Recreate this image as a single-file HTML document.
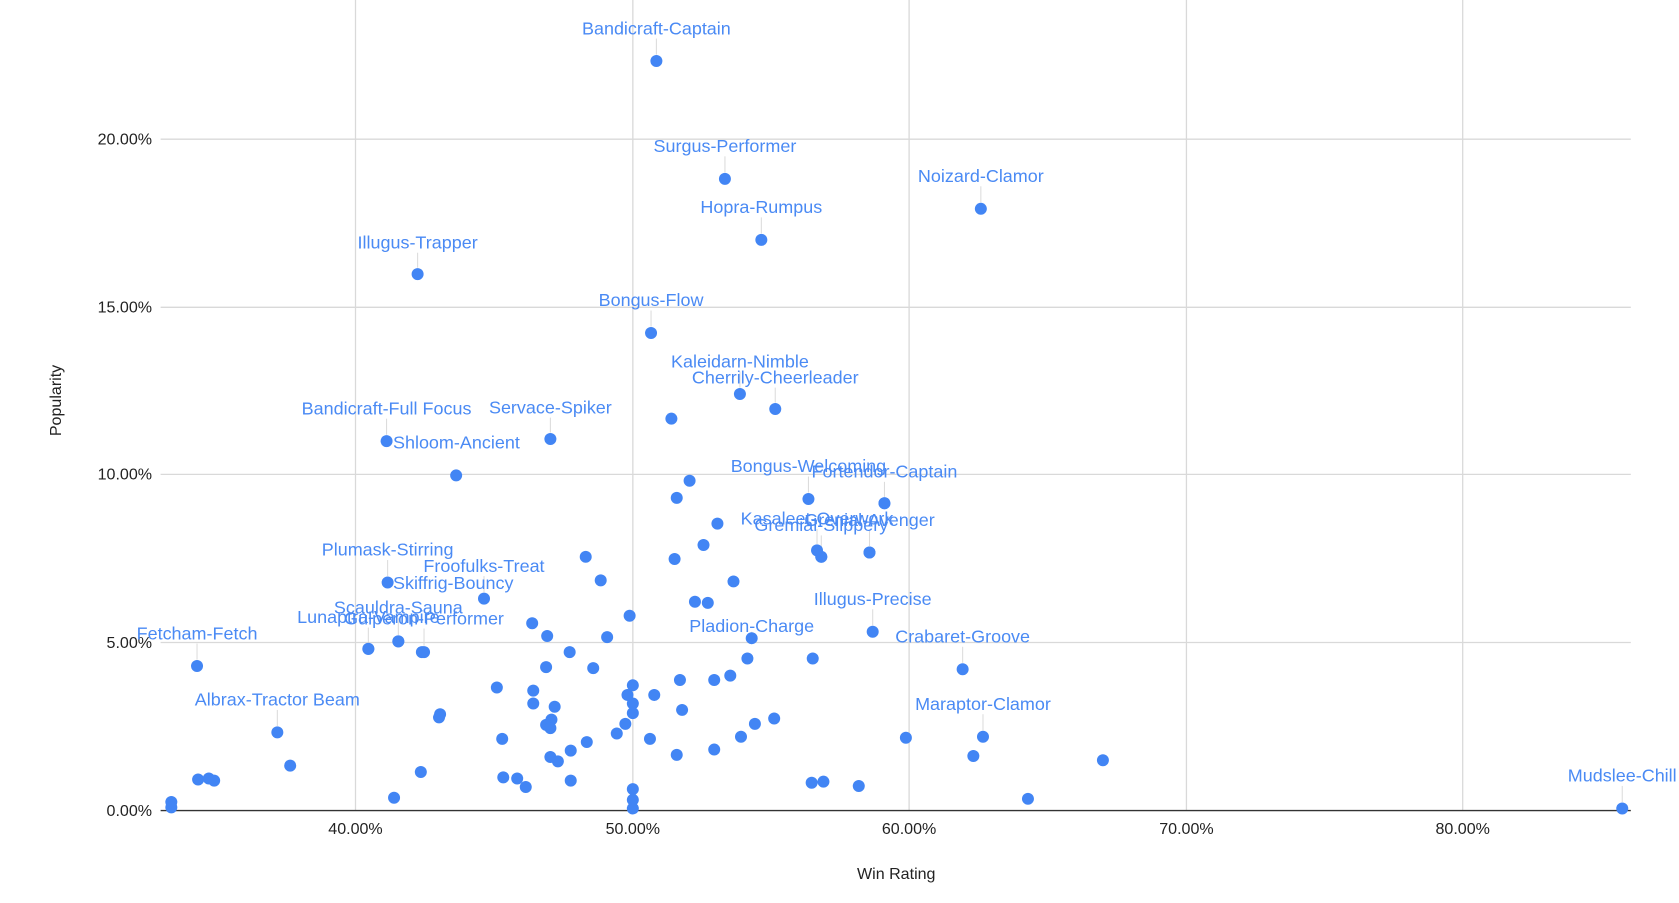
<!DOCTYPE html>
<html><head><meta charset="utf-8"><style>
html,body{margin:0;padding:0;background:#fff;}
svg{display:block;}
text{font-family:"Liberation Sans",sans-serif;}
.l{fill:#4a8af4;font-size:16.8px;text-anchor:middle;}
.t{fill:#222;font-size:15px;}
</style></head><body>
<svg width="1679" height="903" viewBox="0 0 1568 843.3" preserveAspectRatio="none">
<g stroke="#d9d9d9" stroke-width="1.2">
<line x1="332" y1="0" x2="332" y2="757"/><line x1="591" y1="0" x2="591" y2="757"/><line x1="849" y1="0" x2="849" y2="757"/><line x1="1108" y1="0" x2="1108" y2="757"/><line x1="1366" y1="0" x2="1366" y2="757"/>
<line x1="150" y1="130" x2="1523" y2="130"/><line x1="150" y1="287" x2="1523" y2="287"/><line x1="150" y1="443" x2="1523" y2="443"/><line x1="150" y1="600" x2="1523" y2="600"/>
</g>
<line x1="150" y1="757" x2="1523" y2="757" stroke="#333" stroke-width="1.3"/>
<g class="t" text-anchor="end">
<text x="142" y="135">20.00%</text><text x="142" y="292">15.00%</text><text x="142" y="448">10.00%</text><text x="142" y="605">5.00%</text><text x="142" y="762">0.00%</text>
</g>
<g class="t" text-anchor="middle">
<text x="332" y="779">40.00%</text><text x="591" y="779">50.00%</text><text x="849" y="779">60.00%</text><text x="1108" y="779">70.00%</text><text x="1366" y="779">80.00%</text>
<text x="837" y="821">Win Rating</text>
<text transform="translate(57,374) rotate(-90)">Popularity</text>
</g>
<g stroke="#dcdcdc" stroke-width="1" id="leaders"></g>
<g fill="#4285f4" id="pts"></g>
<g id="labs"></g>
<script>
var pts=[[627,391],[644,449],[632,465],[670,489],[657,509],[630,522],[547,520],[561,542],[685,543],[649,562],[661,563],[588,575],[497,582],[511,594],[567,595],[532,609],[510,623],[554,624],[464,642],[591,640],[635,635],[667,635],[682,631],[698,615],[759,615],[498,645],[498,657],[586,649],[611,649],[591,657],[591,666],[518,660],[637,663],[411,667],[410,670],[515,672],[510,677],[514,680],[584,676],[723,671],[705,676],[576,685],[469,690],[548,693],[607,690],[692,688],[846,689],[533,701],[667,700],[632,705],[514,707],[521,711],[909,706],[1030,710],[271,715],[393,721],[470,726],[483,727],[533,729],[185,728],[195,727],[200,729],[491,735],[591,737],[758,731],[769,730],[802,734],[368,745],[591,747],[960,746],[160,749],[160,754],[591,755],[426,444],[344,606],[372,599],[394,609],[826,470],[767,520],[812,516]];
var labs=[["Bandicraft-Captain",613,57,26],["Surgus-Performer",677,167,136],["Noizard-Clamor",916,195,164],["Hopra-Rumpus",711,224,193],["Illugus-Trapper",390,256,226],["Bongus-Flow",608,311,280],["Kaleidarn-Nimble",691,368,337],["Cherrily-Cheerleader",724,382,352],["Servace-Spiker",514,410,380],["Fortendor-Captain",826,470,440],["Gremial-Slippery",767,520,490],["Grenial-Avenger",812,516,485],["Kasaleet-Overwork",763,514,484],["Bongus-Welcoming",755,466,435],["Illugus-Precise",815,590,559],["Pladion-Charge",702,596,584],["Crabaret-Groove",899,625,594],["Scauldra-Sauna",372,599,567],["Gulperon-Performer",396,609,577],["Lunaptra-Vampire",344,606,576],["Fetcham-Fetch",184,622,591],["Albrax-Tractor Beam",259,684,653],["Maraptor-Clamor",918,688,657],["Mudslee-Chill",1515,755,724],["Froofulks-Treat",452,559,528],["Plumask-Stirring",362,544,513],["Bandicraft-Full Focus",361,412,381]];
var ns="http://www.w3.org/2000/svg",P=document.getElementById("pts"),L=document.getElementById("labs"),G=document.getElementById("leaders");
function c(x,y){var e=document.createElementNS(ns,"circle");e.setAttribute("cx",x);e.setAttribute("cy",y);e.setAttribute("r",5.6);P.appendChild(e);}
pts.forEach(function(p){c(p[0],p[1]);});
function t(s,x,y,a){var e=document.createElementNS(ns,"text");e.setAttribute("class","l");e.setAttribute("x",x);e.setAttribute("y",y);if(a)e.style.textAnchor=a;e.textContent=s;L.appendChild(e);}
labs.forEach(function(l){c(l[1],l[2]);var ln=document.createElementNS(ns,"line");ln.setAttribute("x1",l[1]);ln.setAttribute("x2",l[1]);ln.setAttribute("y1",l[3]+10);ln.setAttribute("y2",l[2]-6);G.appendChild(ln);t(l[0],l[1],l[3]+6);});
t("Shloom-Ancient",367,419,"start");t("Skiffrig-Bouncy",367,550,"start");
</script>
</svg>
</body></html>
